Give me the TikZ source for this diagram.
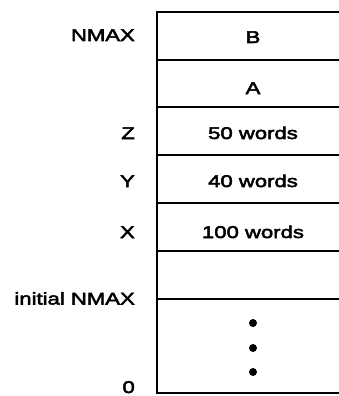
\documentclass[tikz,border=0pt]{standalone}
\usepackage{fontspec}
\setmainfont{Liberation Sans}[FakeStretch=1.3,FakeBold=3]
\begin{document}
\begin{tikzpicture}[x=1pt,y=-1pt,
  lab/.style={anchor=base east,inner sep=0pt,font=\fontsize{17}{17}\selectfont},
  cell/.style={anchor=base,inner sep=0pt,font=\fontsize{17}{17}\selectfont},
  dot/.style={circle,fill=black,inner sep=0pt,minimum size=8pt},
  frame/.style={line width=1.8pt},
  sep/.style={line width=1.3pt}]
\useasboundingbox (0,0) rectangle (339,396);
% frame corners
\coordinate (tl) at (157,12);
\coordinate (tr) at (339,12);
\coordinate (bl) at (157,393);
\coordinate (br) at (339,393);
\draw[frame] (tr) -- (tl) -- (bl) -- (br);
% separators
\foreach \yy/\nm in {60/s1,107/s2,155/s3,203/s4,251/s5,299/s6}{
  \coordinate (\nm l) at (157,\yy);
  \coordinate (\nm r) at (339,\yy);
  \draw[sep] (\nm l) -- (\nm r);
}
% cell texts
\node[cell] (cB) at (253,43) {B};
\node[cell] (cA) at (253,94) {A};
\node[cell] (cZ) at (253,139) {50 words};
\node[cell] (cY) at (253,187) {40 words};
\node[cell] (cX) at (253,238) {100 words};
% dots
\node[dot] (d1) at (253,323) {};
\node[dot] (d2) at (253,348) {};
\node[dot] (d3) at (253,372) {};
% labels
\node[lab] (lN) at (135,41) {NMAX};
\node[lab] (lZ) at (135,139) {Z};
\node[lab] (lY) at (135,187) {Y};
\node[lab] (lX) at (135,238) {X};
\node[lab] (lI) at (135,304.5) {initial NMAX};
\node[lab] (l0) at (135,393) {0};
\end{tikzpicture}
\end{document}
